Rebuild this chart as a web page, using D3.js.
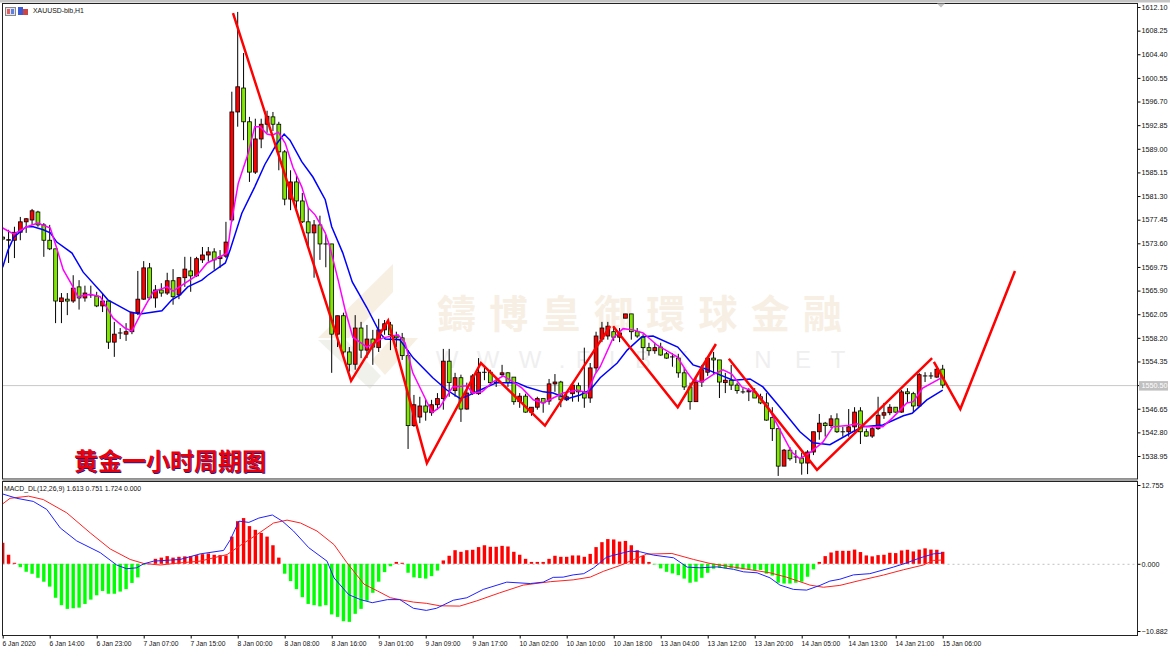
<!DOCTYPE html>
<html>
<head>
<meta charset="utf-8">
<title>XAUUSD H1</title>
<script src="https://cdn.jsdelivr.net/npm/d3@7"></script>
<style>
  html, body { margin: 0; padding: 0; background: #fff; overflow: hidden; }
  svg { display: block; }
  text { font-family: "Liberation Sans", Arial, sans-serif; }
</style>
</head>
<body>
<div id="chart"></div>
<script>
//Hourly candles, one entry per bar
const opens = [1574.6,1574.1,1574.1,1575.4,1577.1,1577.4,1578.7,1576.6,1574.1,1572.7,
  1564.1,1564.5,1564.2,1566.5,1564.7,1565.2,1565.0,1563.4,1564.2,1557.5,
  1559.0,1558.8,1559.2,1562.3,1564.5,1569.6,1564.7,1566.0,1565.5,1567.5,
  1565.2,1568.0,1569.1,1568.3,1570.9,1571.7,1572.2,1571.1,1571.5,1577.4,
  1595.0,1598.9,1593.4,1585.2,1590.6,1593.0,1594.2,1593.0,1588.5,1580.8,
  1583.6,1580.5,1577.1,1575.3,1576.6,1573.5,1573.5,1558.8,1561.8,1555.9,
  1553.9,1559.8,1556.2,1558.0,1556.6,1559.5,1560.3,1558.5,1558.2,1555.3,
  1543.9,1545.3,1547.1,1546.0,1547.3,1548.3,1554.4,1549.6,1551.7,1546.6,
  1549.2,1549.1,1552.6,1552.6,1550.9,1552.2,1552.5,1551.8,1547.8,1548.7,
  1546.1,1546.9,1548.3,1547.9,1550.7,1551.0,1548.1,1549.1,1550.4,1549.4,
  1548.4,1553.3,1558.0,1558.5,1559.2,1558.3,1561.4,1562.1,1559.2,1558.3,
  1556.6,1556.1,1556.7,1555.6,1555.1,1554.9,1552.5,1550.2,1547.8,1551.0,
  1552.6,1554.9,1554.6,1550.9,1551.3,1550.5,1549.4,1549.4,1549.4,1548.6,
  1547.6,1545.2,1543.4,1537.3,1539.9,1538.8,1538.6,1537.8,1539.6,1542.9,
  1544.3,1543.9,1545.0,1542.9,1542.9,1543.7,1546.3,1542.9,1542.2,1543.4,
  1545.6,1546.0,1546.9,1546.1,1549.4,1549.1,1547.1,1552.0,1552.0,1551.8,1553.1];
const closes = [1574.3,1574.2,1575.4,1577.1,1577.6,1578.9,1576.6,1574.1,1572.7,1564.2,
  1564.7,1564.2,1566.3,1564.7,1565.5,1565.2,1563.4,1564.2,1557.5,1558.8,
  1559.0,1559.2,1562.3,1564.5,1569.6,1564.7,1566.0,1565.5,1567.5,1564.9,
  1568.0,1569.4,1568.3,1571.1,1571.7,1572.2,1570.9,1571.4,1573.8,1595.0,
  1599.1,1593.4,1585.2,1590.6,1593.0,1594.3,1593.0,1588.5,1580.8,1583.6,
  1580.5,1577.1,1575.3,1576.6,1573.5,1573.5,1558.8,1561.8,1555.9,1553.9,
  1559.8,1556.2,1558.0,1556.7,1559.5,1560.5,1558.7,1558.2,1555.3,1543.9,
  1547.3,1547.1,1546.1,1547.3,1548.3,1554.4,1550.9,1551.7,1546.6,1549.2,
  1552.0,1552.6,1552.6,1550.9,1551.0,1552.5,1550.9,1547.8,1548.7,1546.1,
  1546.9,1548.3,1547.6,1550.7,1551.0,1548.1,1548.6,1550.5,1549.4,1548.4,
  1553.3,1558.5,1559.8,1560.1,1558.3,1559.0,1562.1,1559.2,1558.5,1556.6,
  1556.1,1556.6,1555.4,1554.9,1555.1,1552.5,1550.2,1547.8,1551.0,1553.0,
  1554.9,1554.6,1551.0,1551.3,1550.5,1549.6,1549.4,1549.6,1548.4,1547.6,
  1544.8,1543.4,1537.3,1539.9,1538.5,1538.8,1537.8,1539.6,1542.9,1544.3,
  1543.9,1545.0,1542.9,1542.9,1543.7,1546.1,1542.9,1542.2,1543.4,1545.6,
  1546.0,1546.9,1546.1,1549.4,1549.1,1547.1,1552.2,1552.0,1552.0,1553.1,1550.5];
const highs = [1574.8,1575.8,1576.3,1577.9,1577.7,1579.2,1578.9,1576.9,1576.6,1572.7,
  1565.5,1565.5,1568.4,1567.6,1566.7,1566.7,1565.7,1565.5,1564.2,1560.8,
  1559.8,1560.6,1562.4,1569.1,1570.7,1570.4,1566.8,1567.1,1568.8,1569.4,
  1568.1,1571.4,1571.4,1571.4,1573.0,1573.0,1572.8,1572.5,1577.1,1598.3,
  1611.3,1604.6,1594.2,1593.9,1593.9,1595.2,1595.0,1593.4,1588.8,1585.5,
  1584.7,1581.8,1579.4,1577.4,1578.1,1575.0,1573.5,1561.8,1562.3,1556.7,
  1561.9,1560.8,1560.3,1559.5,1561.3,1561.1,1560.8,1559.2,1559.0,1556.2,
  1548.9,1548.6,1548.1,1548.1,1549.2,1556.4,1556.4,1552.5,1552.2,1550.9,
  1552.3,1554.9,1553.3,1553.0,1551.8,1553.8,1552.6,1551.8,1549.2,1549.1,
  1546.9,1548.6,1548.3,1551.5,1552.3,1551.2,1549.2,1550.9,1550.9,1556.6,
  1554.1,1559.2,1560.8,1560.8,1560.1,1559.8,1562.1,1562.1,1559.8,1558.8,
  1557.4,1557.4,1557.4,1555.9,1555.7,1555.6,1553.3,1550.9,1551.7,1553.8,
  1555.1,1555.9,1554.6,1552.5,1553.8,1550.9,1550.0,1550.0,1550.0,1549.1,
  1549.2,1546.9,1543.5,1540.1,1540.4,1539.9,1539.5,1539.9,1542.9,1545.8,
  1544.5,1545.6,1545.9,1543.7,1546.6,1546.9,1546.9,1543.4,1543.7,1548.6,
  1547.6,1547.4,1546.9,1549.7,1550.0,1549.4,1552.5,1552.6,1552.6,1553.3,1553.8];
const lows = [1574.1,1570.4,1571.2,1574.1,1575.3,1576.6,1576.3,1571.4,1572.5,1560.6,
  1560.6,1561.9,1563.9,1562.8,1564.1,1564.7,1563.2,1562.4,1556.4,1555.1,
  1558.0,1557.7,1558.8,1561.9,1564.4,1564.4,1563.1,1564.9,1565.2,1563.6,
  1564.5,1566.5,1565.7,1568.1,1570.4,1570.6,1569.3,1569.6,1571.2,1577.1,
  1592.6,1590.4,1583.6,1584.9,1589.1,1591.6,1591.9,1585.5,1579.8,1579.0,
  1579.0,1576.9,1573.0,1568.0,1570.9,1569.7,1552.5,1556.7,1555.4,1552.7,
  1553.0,1554.9,1554.9,1553.8,1555.9,1558.7,1556.2,1556.7,1554.6,1540.1,
  1543.7,1544.3,1544.7,1545.5,1546.5,1546.5,1548.6,1548.6,1544.5,1546.5,
  1548.9,1548.9,1551.3,1550.5,1550.2,1551.8,1550.2,1547.3,1546.8,1546.0,
  1545.5,1546.5,1546.0,1547.3,1549.4,1546.9,1547.9,1547.8,1547.8,1546.8,
  1547.6,1552.5,1557.5,1557.9,1557.7,1557.5,1561.4,1557.9,1558.2,1554.6,
  1555.3,1555.6,1555.3,1554.8,1553.5,1551.7,1549.7,1546.5,1547.8,1550.2,
  1552.0,1552.2,1548.4,1549.2,1549.7,1549.1,1549.1,1547.9,1548.4,1547.4,
  1544.7,1541.4,1535.7,1537.3,1538.2,1537.8,1535.9,1536.0,1539.1,1541.6,
  1542.1,1543.5,1542.7,1542.1,1542.1,1542.9,1540.9,1542.1,1541.9,1543.2,
  1545.0,1545.6,1546.0,1546.0,1547.6,1546.1,1546.9,1551.0,1551.5,1551.7,1550.0];

//MACD histogram, one entry per bar
const macdHist = [3.4,1.46,0.16,-0.54,-1.29,-1.62,-2.27,-2.9,-3.7,-5.5,
  -6.7,-7.3,-7.2,-7.1,-6.5,-5.8,-5.1,-4.4,-4.85,-4.85,
  -4.5,-4.1,-3.1,-2.2,-0.2,0.05,0.8,1.0,1.24,1.0,
  1.13,1.2,1.24,1.4,1.56,1.67,1.46,1.4,1.35,4.4,
  6.9,7.4,6.1,5.5,5.0,4.4,3.0,1.0,-1.6,-2.8,
  -4.1,-5.4,-6.5,-6.7,-6.9,-6.7,-8.2,-8.6,-9.3,-9.4,
  -8.1,-7.3,-6.0,-4.7,-2.9,-1.35,-0.4,0.3,0.16,-1.45,
  -2.2,-2.3,-2.4,-2.0,-1.1,0.54,1.3,2.2,1.94,2.2,
  2.27,2.7,3.0,2.75,2.75,2.9,2.8,1.94,1.46,0.8,
  0.3,0.3,0.3,0.8,1.3,1.13,1.13,1.35,1.35,1.13,
  1.6,2.7,3.5,4.0,3.94,3.6,3.7,3.0,2.2,1.3,
  0.3,-0.1,-0.75,-1.3,-1.56,-1.83,-2.4,-3.07,-2.9,-2.27,
  -1.46,-0.8,-0.65,-0.75,-0.75,-0.8,-0.9,-0.9,-1.0,-1.0,
  -1.6,-1.9,-3.07,-3.2,-3.2,-3.07,-2.9,-2.1,-0.9,0.3,
  1.24,1.83,2.1,2.1,2.1,2.3,1.9,1.35,1.2,1.4,
  1.46,1.78,1.73,2.16,2.27,2.0,2.3,2.5,2.3,2.27,1.94];

//Moving averages, read at their turning points: [bar, price]
const maSlow = [[0,1569.7],[0.9,1572.5],[1.9,1574.6],[2.9,1575.4],[4,1576.3],[5.2,1576.3],[6.9,1575.8],[8.1,1575.3],[9.2,1573.8],[11.8,1572.0],
  [13.7,1568.9],[16.9,1565.5],[17.9,1564.4],[21.7,1562.4],[23.4,1562.1],[27.1,1562.6],[28.8,1564.4],[30.2,1565.2],[31.5,1566.5],[33.9,1567.6],
  [34.9,1568.4],[37.9,1570.4],[38.7,1572.5],[40.7,1578.5],[42.9,1582.8],[44.6,1586.4],[46.7,1589.9],[47.9,1591.4],[48.9,1590.4],[50.9,1586.9],
  [52.8,1584.4],[54.9,1580.7],[56,1576.3],[57.9,1572.0],[59.5,1567.3],[62,1563.1],[64.2,1559.0],[65.1,1558.0],[67.6,1557.9],[69.9,1554.9],
  [73.2,1551.7],[75.6,1549.7],[77.9,1548.3],[79.5,1548.9],[82.4,1550.2],[84.1,1550.9],[87.5,1550.9],[89.2,1550.2],[92,1549.4],[93.7,1549.2],
  [96.1,1548.3],[98.3,1548.9],[100,1549.7],[101.7,1551.7],[104.6,1554.1],[106.3,1556.2],[108.8,1558.4],[110.7,1558.5],[114.9,1556.7],[117.5,1553.8],
  [119.2,1553.3],[124.3,1551.3],[127.2,1551.5],[129.4,1550.2],[132.3,1546.9],[135.7,1542.9],[137.9,1541.1],[140.8,1540.8],[144.7,1542.9],[146.4,1543.7],
  [149.8,1544.0],[153.3,1545.5],[154.8,1545.9],[157.3,1548.1],[160,1549.7]];
const maFast = [[0,1576.1],[1.9,1575.1],[4.1,1576.3],[6,1576.9],[8.1,1576.1],[9.2,1572.8],[10.3,1569.3],[11.8,1566.8],[12.8,1564.9],[14.9,1565.3],
  [16.6,1564.9],[18.8,1561.4],[20.8,1559.8],[22,1559.3],[23.4,1561.9],[25.6,1565.7],[28,1566.5],[29,1565.8],[33.1,1568.4],[34.8,1570.4],
  [36.1,1571.0],[38.2,1572.0],[38.9,1576.9],[40.1,1583.4],[41.8,1588.3],[42.9,1592.6],[43.8,1592.6],[45,1591.4],[45.9,1591.2],[46.9,1591.7],
  [48.1,1589.9],[49.4,1586.0],[50.9,1582.8],[52,1579.4],[53.2,1578.2],[54.9,1575.3],[55.7,1573.0],[57.1,1567.6],[58.3,1562.7],[59.6,1558.3],
  [62,1556.7],[64.7,1558.2],[67.3,1558.7],[68.5,1557.4],[69.8,1552.5],[73.1,1546.0],[74.4,1546.9],[76.6,1550.2],[79,1550.4],[80,1549.2],
  [81.6,1549.4],[83.4,1551.0],[85.2,1552.0],[86.9,1551.0],[88.4,1550.0],[90.3,1548.1],[92,1547.6],[93.7,1548.4],[95.4,1549.2],[97.8,1549.7],
  [99.5,1549.2],[100.8,1552.2],[101.7,1553.5],[103.9,1558.2],[105.6,1559.7],[107.3,1559.5],[109,1559.0],[111.4,1557.0],[114.8,1555.1],[116.5,1552.6],
  [117.5,1551.3],[119,1551.0],[120.9,1552.2],[122.6,1553.0],[124.1,1552.3],[125.8,1550.2],[128.4,1549.2],[130.3,1546.9],[132.3,1543.2],[134.3,1539.6],
  [135.7,1538.5],[137.4,1539.5],[139.6,1541.2],[141.3,1543.7],[143.7,1543.9],[145.4,1544.2],[147.1,1543.7],[149.8,1543.7],[151.5,1545.2],[153.9,1547.6],
  [155,1547.8],[156.6,1550.0],[160,1551.8]];

//MACD lines: [bar, value]
const macdLine = [[0,11.3],[2.4,10.6],[5.2,10.1],[7.5,8.8],[9.8,5.8],[12.6,3.7],[16.6,1.8],[19.4,-0.2],[21.1,-0.8],[22.8,-0.65],
  [24,0],[25.7,0.43],[30.2,0.7],[33.6,1.6],[37.6,2.16],[38.75,3.9],[40.2,6.9],[41.9,6.7],[43.6,7.4],[45.9,7.9],
  [47.6,6.9],[49.5,5.3],[52.1,2.6],[55.2,0.43],[56.4,-2.3],[58.9,-5.0],[60.9,-5.8],[62.9,-6.3],[65.5,-5.8],[67.6,-5.8],
  [69.9,-7.2],[72.1,-7.55],[73.85,-7.2],[76.7,-5.9],[79,-5.5],[81.8,-4.15],[85.8,-2.97],[89.8,-3.2],[92,-2.97],[93.7,-2.2],
  [95.4,-2.16],[97.1,-1.8],[98.9,-1.6],[100.6,-0.65],[102.8,1.08],[105.7,1.8],[106.8,2.05],[108.5,1.94],[110.8,1.4],[114.2,0.97],
  [116.5,-0.54],[118.7,-0.65],[121.6,-0.5],[124.4,-0.9],[126.1,-1.3],[128.4,-1.46],[130.6,-2.27],[132.3,-3.45],[134.6,-4.15],[136.85,-4.26],
  [139.1,-3.5],[140.8,-2.8],[142.5,-2.5],[144.8,-1.8],[147.6,-1.6],[151.6,-0.54],[153.9,0.16],[156.2,0.97],[158.4,1.6],[159.9,1.73]];
const signalLine = [[0,9.7],[1.25,10.6],[4.4,10.95],[6.9,10.4],[10.9,8.25],[14.9,5.0],[18.3,2.4],[21.7,0.7],[24,0.05],[26.8,-0.2],
  [29.7,0.1],[33.6,0.43],[38.2,1.5],[40.5,3.0],[43.3,4.75],[46.1,6.6],[48.4,7.07],[50.7,6.6],[53.5,5.3],[56.4,3.1],
  [58.6,0.16],[61.5,-3.3],[63.8,-4.4],[66,-5.5],[67.6,-5.8],[69.9,-6.2],[72.1,-6.4],[74.4,-6.8],[77.8,-6.85],[80.7,-6.0],
  [84.6,-4.7],[88.6,-3.45],[93.2,-2.9],[97.1,-2.6],[100,-2.16],[102.3,-1.2],[105.1,-0.27],[106.8,0.43],[109.6,1.56],[113.9,1.67],
  [117.6,0.7],[120.4,0.05],[124.4,-0.54],[130.6,-1.46],[133.4,-2.16],[137.4,-3.45],[139.7,-3.8],[142.5,-3.5],[145.9,-2.7],[149.9,-1.83],
  [153.3,-0.97],[156.7,-0.2],[158.4,0.54],[159.9,0.6]];

//Hand drawn red forecast strokes: [bar, price]
const strokes = [
  [[39.2,1611.1],[59.3,1551.2],[65.6,1561.0],[72.2,1537.8],[81.4,1554.1],[92.3,1543.9],[103.4,1560.1]],
  [[103.9,1560.1],[114.9,1546.9],[121.4,1557.2]],
  [[123.6,1554.8],[138.6,1536.7],[158.2,1554.9]],
  [[158.5,1554.3],[163,1546.6],[172.3,1569.1]]
];

const priceTicks = [1612.10,1608.25,1604.40,1600.55,1596.70,1592.85,1589.00,1585.15,1581.30,1577.45,
  1573.60,1569.75,1565.90,1562.05,1558.20,1554.35,1550.50,1546.65,1542.80,1538.95];
const macdTicks = [12.755,0,-10.882];
const timeTicks = [0,8,16,24,32,40,48,56,64,72,80,88,96,104,112,120,128,136,144,152,160];
const timeLabels = ["6 Jan 2020","6 Jan 14:00","6 Jan 23:00","7 Jan 07:00","7 Jan 15:00","8 Jan 00:00","8 Jan 08:00",
  "8 Jan 16:00","9 Jan 01:00","9 Jan 09:00","9 Jan 17:00","10 Jan 02:00","10 Jan 10:00","10 Jan 18:00",
  "13 Jan 04:00","13 Jan 12:00","13 Jan 20:00","14 Jan 05:00","14 Jan 13:00","14 Jan 21:00","15 Jan 06:00"];
const lastPrice = 1550.50;

//size of svg elements
const w = 1170;
const h = 651;
const left = 2.5;
const right = 1137.5;
const mainTop = 3.5;
const mainBottom = 479;
const subTop = 481.5;
const subBottom = 635.5;

const canvas = d3.select("#chart")
  .append("svg")
  .attr("width", w)
  .attr("height", h);

canvas.append("rect").attr("width", w).attr("height", h).attr("fill", "white");

//scales
const x = d3.scaleLinear().domain([0, 160]).range([2.7, 942.7]);
const y = d3.scaleLinear().domain([1612.10, 1538.95]).range([7, 456]);
const yMacd = d3.scaleLinear().domain([12.755, -10.882]).range([485, 631]);

//clip so nothing runs over the frame
const defs = canvas.append("defs");
defs.append("clipPath").attr("id", "mainClip").append("rect")
  .attr("x", left).attr("y", mainTop).attr("width", right - left).attr("height", mainBottom - mainTop);
defs.append("clipPath").attr("id", "subClip").append("rect")
  .attr("x", left).attr("y", subTop).attr("width", right - left).attr("height", subBottom - subTop);

//watermark sits behind the candles
const mark = canvas.append("g").attr("id", "watermark");
const markShapes = [
  {pts: "393,264 393,292 349,338 318,338", fill: "#f7efe2"},
  {pts: "318,340 346,340 381,376 370,389", fill: "#f1f1ec"},
  {pts: "418,338 392,338 372,360 385,375", fill: "#f7efe2"}
];
mark.selectAll("polygon").data(markShapes).join("polygon")
  .attr("points", d => d.pts).attr("fill", d => d.fill);
mark.append("text")
  .attr("x", 437).attr("y", 328)
  .style("font-family", "'Noto Sans CJK TC'")
  .style("font-weight", 700)
  .style("font-size", "39px")
  .style("letter-spacing", "13.3px")
  .attr("fill", "#f7efe4")
  .text("鑄博皇御環球金融");
const markLetters = [["W",447],["W",488],["W",530],[".",562],["F",583],["I",612],["B",643],["X",680],["I",713],["N",763],["E",803],["T",838]];
mark.selectAll("text.letter").data(markLetters).join("text")
  .attr("class", "letter")
  .attr("x", d => d[1]).attr("y", 368)
  .attr("text-anchor", "middle")
  .style("font-size", "24px")
  .attr("fill", "#efefef")
  .text(d => d[0]);

//current price line
canvas.append("line")
  .attr("x1", left).attr("x2", right)
  .attr("y1", y(lastPrice) + 0.5).attr("y2", y(lastPrice) + 0.5)
  .attr("stroke", "#c8c8c8");

//candles
const candles = canvas.append("g").attr("clip-path", "url(#mainClip)");
const bars = d3.range(opens.length);

candles.selectAll("line.wick").data(bars).join("line")
  .attr("class", "wick")
  .attr("x1", i => x(i)).attr("x2", i => x(i))
  .attr("y1", i => y(highs[i])).attr("y2", i => y(lows[i]))
  .attr("stroke", "black");

candles.selectAll("rect.body").data(bars).join("rect")
  .attr("class", "body")
  .attr("x", i => x(i) - 1.9)
  .attr("y", i => y(Math.max(opens[i], closes[i])))
  .attr("width", 3.8)
  .attr("height", i => Math.max(Math.abs(y(opens[i]) - y(closes[i])), 0.1))
  .attr("fill", i => closes[i] >= opens[i] ? "#ff0000" : "#80e800")
  .attr("stroke", "black")
  .attr("stroke-width", 0.8);

//moving averages and forecast strokes
const priceLine = d3.line().x(d => x(d[0])).y(d => y(d[1]));

candles.append("path").attr("d", priceLine(maSlow))
  .attr("fill", "none").attr("stroke", "#0000ff").attr("stroke-width", 1.5);
candles.append("path").attr("d", priceLine(maFast))
  .attr("fill", "none").attr("stroke", "#ff00ff").attr("stroke-width", 1.5);

candles.selectAll("path.stroke").data(strokes).join("path")
  .attr("class", "stroke")
  .attr("d", d => priceLine(d))
  .attr("fill", "none")
  .attr("stroke", "#ff0000")
  .attr("stroke-width", 2.5);

//MACD pane
const sub = canvas.append("g").attr("clip-path", "url(#subClip)");

sub.append("line")
  .attr("x1", left).attr("x2", right)
  .attr("y1", yMacd(0) + 0.5).attr("y2", yMacd(0) + 0.5)
  .attr("stroke", "#c0c0c0")
  .attr("stroke-dasharray", "2,3");

sub.selectAll("rect").data(bars).join("rect")
  .attr("x", i => x(i) - 1.7)
  .attr("y", i => Math.min(yMacd(macdHist[i]), yMacd(0)))
  .attr("width", 3.4)
  .attr("height", i => Math.abs(yMacd(macdHist[i]) - yMacd(0)))
  .attr("fill", i => macdHist[i] >= 0 ? "#ff0000" : "#00ff00");

const macdPath = d3.line().x(d => x(d[0])).y(d => yMacd(d[1]));
sub.append("path").attr("d", macdPath(signalLine))
  .attr("fill", "none").attr("stroke", "#ff2020");
sub.append("path").attr("d", macdPath(macdLine))
  .attr("fill", "none").attr("stroke", "#2020ff");

//axes
const priceAxis = d3.axisRight(y).tickValues(priceTicks).tickSize(3).tickPadding(1).tickFormat(d3.format(".2f"));
const macdAxis = d3.axisRight(yMacd).tickValues(macdTicks).tickSize(3).tickPadding(1).tickFormat(d3.format(".3f"));
const timeAxis = d3.axisBottom(x).tickValues(timeTicks).tickSize(3).tickPadding(1)
  .tickFormat((d, i) => timeLabels[i]);

const styleAxis = (g, size) => {
  g.select(".domain").remove();
  g.selectAll("text").style("font-size", size + "px").attr("fill", "#111");
};

canvas.append("g").attr("transform", `translate(${right},0)`).call(priceAxis).call(styleAxis, 7.2);
canvas.append("g").attr("transform", `translate(${right},0)`).call(macdAxis).call(styleAxis, 7.2);
canvas.append("g").attr("transform", `translate(0,${subBottom})`).call(timeAxis).call(styleAxis, 6.7)
  .selectAll("text").attr("text-anchor", "start").attr("dx", "-0.1em").attr("dy", "0.95em");

//current price tag
canvas.append("rect")
  .attr("x", 1139).attr("y", y(lastPrice) - 4)
  .attr("width", 29).attr("height", 9.5)
  .attr("fill", "#c0c0c0");
canvas.append("text")
  .attr("x", 1141.5).attr("y", y(lastPrice) + 3.2)
  .style("font-size", "7.2px")
  .attr("fill", "white")
  .text(d3.format(".2f")(lastPrice));

//frames
canvas.append("rect").attr("x", 0).attr("y", 0).attr("width", w).attr("height", 2.5).attr("fill", "#c4c4c4");
const frame = canvas.append("g").attr("fill", "none").attr("stroke", "#222");
frame.append("rect").attr("x", left).attr("y", mainTop).attr("width", right - left).attr("height", mainBottom - mainTop);
frame.append("rect").attr("x", left).attr("y", subTop).attr("width", right - left).attr("height", subBottom - subTop);
canvas.append("rect").attr("x", left).attr("y", mainBottom + 0.5).attr("width", right - left).attr("height", 1.5).attr("fill", "#a8a8a8");

//shift marker at the top
canvas.append("path")
  .attr("d", d3.line()([[937, 3.5], [945, 3.5], [941, 7.5]]))
  .attr("fill", "#c0c0c0");

//symbol caption and its small icons
const icons = canvas.append("g");
icons.append("rect").attr("x", 5.5).attr("y", 7.5).attr("width", 10).attr("height", 8).attr("fill", "#dfe4ea").attr("stroke", "#888");
icons.append("rect").attr("x", 7).attr("y", 9).attr("width", 3).attr("height", 5).attr("fill", "#e06060");
icons.append("rect").attr("x", 11).attr("y", 9).attr("width", 3).attr("height", 5).attr("fill", "#6080e0");
icons.append("rect").attr("x", 18).attr("y", 7).attr("width", 5).attr("height", 8).attr("fill", "#3a5ad8");
icons.append("rect").attr("x", 23).attr("y", 9).attr("width", 5).attr("height", 6).attr("fill", "#cc4444");

canvas.append("text").attr("x", 33).attr("y", 13)
  .style("font-size", "6.9px").attr("fill", "#111").text("XAUUSD-bib,H1");
canvas.append("text").attr("x", 4).attr("y", 491)
  .style("font-size", "6.9px").attr("fill", "#111").text("MACD_DL(12,26,9) 1.613 0.751 1.724 0.000");

//chinese caption with its dark shadow
canvas.append("text")
  .attr("x", 74).attr("y", 470)
  .style("font-family", "'Noto Sans CJK SC'")
  .style("font-weight", 700)
  .style("font-size", "24px")
  .style("text-shadow", "0.7px 0.7px 0 #1a1a8c")
  .attr("fill", "#e8000a")
  .text("黄金一小时周期图");
</script>
</body>
</html>
